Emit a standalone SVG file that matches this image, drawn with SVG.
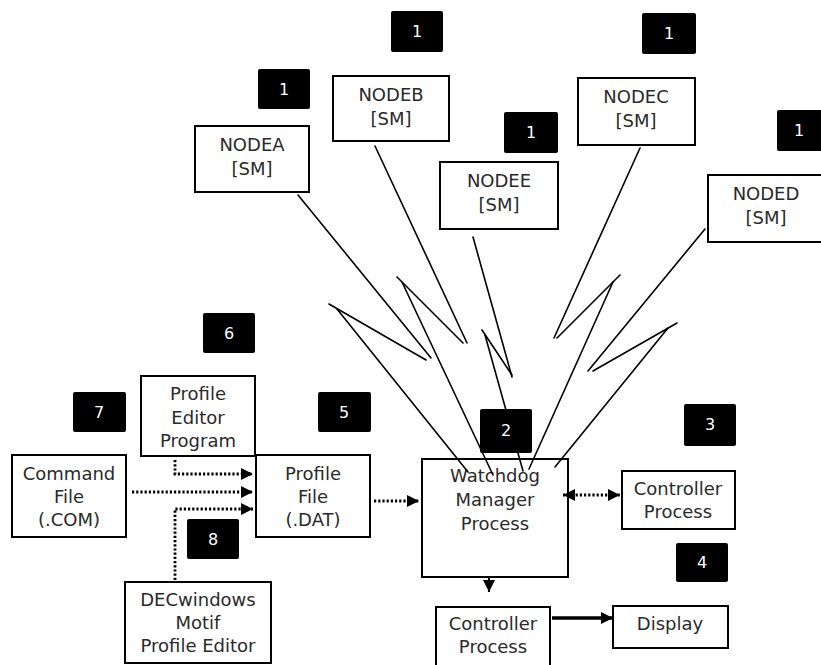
<svg xmlns="http://www.w3.org/2000/svg" width="821" height="665" viewBox="0 0 821 665">
<defs>
<style>
.box{fill:#fff;stroke:#000;stroke-width:2}
.num{fill:#000}
.t{font-family:"DejaVu Sans","Liberation Sans",sans-serif;font-size:18px;fill:#2a2a2a;text-anchor:middle}
.n{font-family:"DejaVu Sans","Liberation Sans",sans-serif;font-size:16px;fill:#fff;text-anchor:middle}
.bolt{stroke:#000;stroke-width:1.6;fill:none;stroke-linecap:round}
.dot{stroke:#000;stroke-width:2.8;fill:none;stroke-dasharray:2.2 2}
</style>
<marker id="ah" markerUnits="userSpaceOnUse" markerWidth="12" markerHeight="12" refX="12" refY="6" orient="auto-start-reverse" viewBox="0 0 12 12">
<path d="M0,0 L12,6 L0,12 z" fill="#000"/>
</marker>
</defs>
<rect width="821" height="665" fill="#fff"/>

<g id="nodeA"><rect class="box" x="195" y="126" width="114" height="66"/><text class="t" x="252" y="151">NODEA</text><text class="t" x="252" y="175">[SM]</text></g>
<g id="nodeB"><rect class="box" x="333" y="76" width="116" height="65"/><text class="t" x="391" y="101">NODEB</text><text class="t" x="391" y="125">[SM]</text></g>
<g id="nodeE"><rect class="box" x="440" y="162" width="118" height="67"/><text class="t" x="499" y="187">NODEE</text><text class="t" x="499" y="211">[SM]</text></g>
<g id="nodeC"><rect class="box" x="578" y="78" width="117" height="67"/><text class="t" x="636" y="103">NODEC</text><text class="t" x="636" y="127">[SM]</text></g>
<g id="nodeD"><rect class="box" x="708" y="175" width="116" height="67"/><text class="t" x="766" y="200">NODED</text><text class="t" x="766" y="224">[SM]</text></g>

<g id="profileEditor"><rect class="box" x="141" y="376" width="114" height="80"/><text class="t" x="198" y="400">Profile</text><text class="t" x="198" y="424">Editor</text><text class="t" x="198" y="447">Program</text></g>
<g id="commandFile"><rect class="box" x="12" y="455" width="114" height="82"/><text class="t" x="69" y="480">Command</text><text class="t" x="69" y="503">File</text><text class="t" x="69" y="526">(.COM)</text></g>
<g id="profileFile"><rect class="box" x="256" y="455" width="114" height="82"/><text class="t" x="313" y="480">Profile</text><text class="t" x="313" y="503">File</text><text class="t" x="313" y="526">(.DAT)</text></g>
<g id="decwindows"><rect class="box" x="125" y="582" width="146" height="81"/><text class="t" x="198" y="606">DECwindows</text><text class="t" x="198" y="629">Motif</text><text class="t" x="198" y="652">Profile Editor</text></g>
<g id="watchdog"><rect class="box" x="422" y="459" width="146" height="118"/><text class="t" x="495" y="482">Watchdog</text><text class="t" x="495" y="506">Manager</text><text class="t" x="495" y="530">Process</text></g>
<g id="controllerRight"><rect class="box" x="622" y="471" width="113" height="58"/><text class="t" x="678" y="495">Controller</text><text class="t" x="678" y="518">Process</text></g>
<g id="controllerBottom"><rect class="box" x="436" y="607" width="114" height="62"/><text class="t" x="493" y="630">Controller</text><text class="t" x="493" y="653">Process</text></g>
<g id="display"><rect class="box" x="613" y="606" width="115" height="42"/><text class="t" x="670" y="630">Display</text></g>

<g id="connectors">
<line class="bolt" x1="298" y1="195" x2="431" y2="358"/>
<line class="bolt" x1="426" y1="360" x2="329" y2="304"/>
<line class="bolt" x1="337" y1="309" x2="468" y2="472"/>

<line class="bolt" x1="375" y1="146" x2="467" y2="343"/>
<line class="bolt" x1="463" y1="343" x2="397" y2="277"/>
<line class="bolt" x1="402" y1="282" x2="493" y2="475"/>

<line class="bolt" x1="473" y1="237" x2="512" y2="377"/>
<line class="bolt" x1="512" y1="375" x2="482" y2="330"/>
<line class="bolt" x1="485" y1="335" x2="523" y2="471"/>

<line class="bolt" x1="640" y1="148" x2="554" y2="338"/>
<line class="bolt" x1="557" y1="338" x2="620" y2="275"/>
<line class="bolt" x1="613" y1="282" x2="529" y2="469"/>

<line class="bolt" x1="705" y1="229" x2="588" y2="371"/>
<line class="bolt" x1="593" y1="371" x2="677" y2="323"/>
<line class="bolt" x1="668" y1="328" x2="555" y2="467"/>

<polyline class="dot" points="175,460 175,474 253,474" marker-end="url(#ah)"/>
<line class="dot" x1="132" y1="492" x2="253" y2="492" marker-end="url(#ah)"/>
<polyline class="dot" points="175,580 175,509 253,509" marker-end="url(#ah)"/>
<line class="dot" x1="374" y1="501" x2="419" y2="501" marker-end="url(#ah)"/>
<line class="dot" x1="563" y1="495" x2="620" y2="495" marker-start="url(#ah)" marker-end="url(#ah)"/>
<line x1="489" y1="578" x2="489" y2="592" stroke="#000" stroke-width="2" marker-end="url(#ah)"/>
<line x1="552" y1="618" x2="613" y2="618" stroke="#000" stroke-width="3.5" marker-end="url(#ah)"/>
</g>

<g id="label1a"><rect class="num" x="258" y="69" width="52" height="40" rx="2"/><text class="n" x="284" y="95">1</text></g>
<g id="label1b"><rect class="num" x="391" y="11" width="52" height="41" rx="2"/><text class="n" x="417" y="37">1</text></g>
<g id="label1c"><rect class="num" x="642" y="13" width="54" height="41" rx="2"/><text class="n" x="669" y="39">1</text></g>
<g id="label1e"><rect class="num" x="504" y="112" width="54" height="41" rx="2"/><text class="n" x="531" y="138">1</text></g>
<g id="label1d"><rect class="num" x="777" y="110" width="52" height="41" rx="2"/><text class="n" x="799" y="136">1</text></g>
<g id="label6"><rect class="num" x="203" y="313" width="52" height="40" rx="2"/><text class="n" x="229" y="339">6</text></g>
<g id="label7"><rect class="num" x="73" y="392" width="53" height="40" rx="2"/><text class="n" x="99" y="418">7</text></g>
<g id="label5"><rect class="num" x="318" y="392" width="53" height="40" rx="2"/><text class="n" x="344" y="418">5</text></g>
<g id="label8"><rect class="num" x="187" y="519" width="52" height="40" rx="2"/><text class="n" x="213" y="545">8</text></g>
<g id="label2"><rect class="num" x="480" y="409" width="52" height="44" rx="2"/><text class="n" x="506" y="436">2</text></g>
<g id="label3"><rect class="num" x="684" y="404" width="52" height="42" rx="2"/><text class="n" x="710" y="430">3</text></g>
<g id="label4"><rect class="num" x="676" y="543" width="52" height="39" rx="2"/><text class="n" x="702" y="568">4</text></g>
</svg>
